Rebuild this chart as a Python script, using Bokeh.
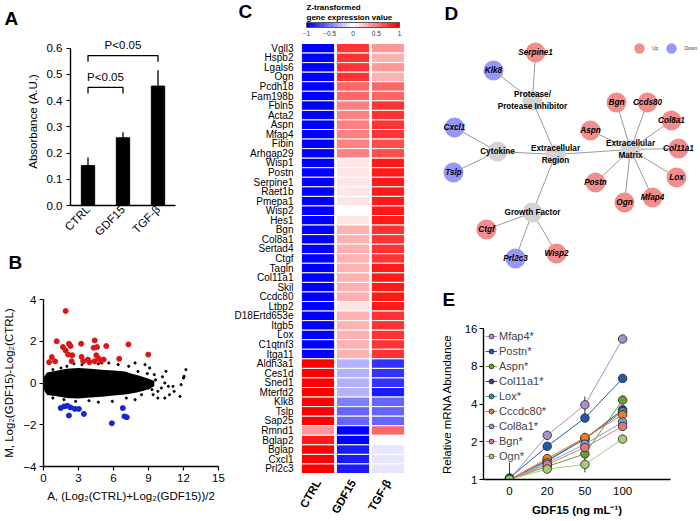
import math
from bokeh.plotting import figure
from bokeh.layouts import row, column
from bokeh.models import (Range1d, FixedTicker, Label, ColorBar,
                          LinearColorMapper, ColumnDataSource, Legend, LegendItem,
                          PrintfTickFormatter)
from bokeh.core.properties import value
from bokeh.embed import file_html
from bokeh.resources import INLINE

FONT = "Liberation Sans"

# ---------------- Panel A data ----------------
a_groups = ["CTRL", "GDF15", "TGF-β"]
a_values = [0.152, 0.258, 0.455]
a_errors = [0.031, 0.021, 0.060]
a_sig_pairs = [(0, 1), (0, 2)]
a_sig_levels = [0.450, 0.571]
a_sig_text = ["P<0.05", "P<0.05"]
a_yticks = [0.0, 0.1, 0.2, 0.3, 0.4, 0.5, 0.6]

# ---------------- Panel B data ----------------
b_core_x = [0.05, 0.3, 1.0, 2.0, 3.0, 4.0, 5.0, 6.0, 7.0, 7.5, 8.0, 8.5, 9.0, 9.5]
b_core_hi = [0.30, 0.50, 0.58, 0.68, 0.72, 0.68, 0.64, 0.60, 0.55, 0.45, 0.38, 0.30, 0.20, 0.10]
b_core_lo = [-0.35, -0.58, -0.62, -0.72, -0.74, -0.70, -0.66, -0.60, -0.55, -0.50, -0.45, -0.38, -0.30, -0.15]
b_sparse_x = [8.7, 9.1, 9.5, 9.8, 10.1, 10.4, 10.5, 10.7, 10.8, 11.1, 11.2, 11.8, 12.0, 12.2,
              12.05, 11.7, 10.4, 9.8, 9.4, 9.3, 9.0, 8.55, 8.4, 7.85, 7.1, 7.3, 7.85, 6.4,
              5.6, 4.7, 3.9, 3.3, 2.6, 2.0, 1.5, 0.8, 5.9, 4.7, 3.9, 2.75, 1.75, 0.8, 5.0,
              8.1, 8.9, 9.6, 10.2]
b_sparse_y = [0.88, 0.72, 0.40, -0.40, -0.24, 0.00, 0.56, -0.16, -0.56, -0.16, -0.40, -0.08,
              0.24, 0.64, 0.32, -0.64, -0.72, -0.72, -0.56, -0.32, -0.24, -0.24, -0.56, -0.80,
              -0.72, 0.80, 0.96, 0.88, 0.96, 0.92, 0.96, 0.88, 0.92, 0.80, 0.72, 0.64, -0.88,
              -0.92, -0.85, -0.88, -0.80, -0.72, 0.96, 0.55, 0.45, 0.15, 0.30]
b_up_x = [1.90, 1.13, 0.71, 0.48, 0.99, 1.67, 1.90, 2.18, 2.32, 2.12, 2.41, 2.46, 3.23, 3.26,
          3.40, 3.80, 3.94, 4.39, 4.30, 4.59, 4.53, 4.73, 4.90, 5.16, 5.38, 6.49, 7.28, 8.98, 4.39]
b_up_y = [3.45, 2.00, 1.24, 1.00, 1.04, 1.72, 1.56, 1.88, 1.77, 1.36, 1.04, 1.33, 1.88, 1.25,
          1.04, 1.12, 1.00, 2.04, 1.69, 1.72, 1.33, 1.17, 1.07, 1.12, 1.77, 1.16, 1.85, 1.36, 1.04]
b_down_x = [1.47, 1.76, 2.04, 2.18, 2.32, 2.69, 3.03, 3.46, 5.86, 6.80, 6.94, 7.14]
b_down_y = [-1.20, -1.12, -1.09, -1.56, -1.17, -1.24, -1.24, -1.48, -1.93, -1.20, -1.60, -1.64]
b_xticks = [0, 3, 6, 9, 12, 15]
b_yticks = [-4, -2, 0, 2, 4]

# ---------------- Panel C data ----------------
heat_conditions = ["CTRL", "GDF15", "TGF-β"]
heat_genes = ["Vgll3", "Hspb2", "Lgals6", "Ogn", "Pcdh18", "Fam198b", "Fbln5", "Acta2", "Aspn",
              "Mfap4", "Fibin", "Arhgap29", "Wisp1", "Postn", "Serpine1", "Raet1b", "Pmepa1",
              "Wisp2", "Hes1", "Bgn", "Col8a1", "Sertad4", "Ctgf", "Tagln", "Col11a1", "Skil",
              "Ccdc80", "Ltbp2", "D18Ertd653e", "Itgb5", "Lox", "C1qtnf3", "Itga11", "Aldh3a1",
              "Ces1d", "Sned1", "Mterfd2", "Klk8", "Tslp", "Sap25", "Rmnd1", "Bglap2", "Bglap",
              "Cxcl1", "Prl2c3"]
z_ctrl = [-1, -1, -1, -1, -1, -1, -1, -1, -1, -1, -1, -1, -1, -1, -1, -1, -1, -1, -1, -1, -1, -1,
          -1, -1, -1, -1, -1, -1, -1, -1, -1, -1, -1, 1, 1, 1, 1, 1, 1, 1, 0.42, 0.85, 1, 1, 1]
z_gdf15 = [0.72, 0.72, 0.72, 0.72, 0.60, 0.60, 0.45, 0.45, 0.45, 0.45, 0.45, 0.45, 0.13, 0.13,
           0.13, 0.13, 0.13, 0.0, 0.13, 0.30, 0.30, 0.30, 0.30, 0.30, 0.30, 0.30, 0.30, 0.13,
           0.30, 0.30, 0.30, 0.30, 0.30, -0.28, -0.28, -0.28, -0.28, -0.45, -0.55, -0.55, -0.95,
           -1.0, -0.88, -0.88, -0.88]
z_tgfb = [0.42, 0.28, 0.42, 0.28, 0.60, 0.60, 0.72, 0.72, 0.72, 0.72, 0.62, 0.62, 0.88, 0.88,
          0.88, 0.88, 0.88, 0.88, 0.88, 0.75, 0.75, 0.75, 0.75, 0.88, 0.88, 0.88, 0.88, 0.88,
          0.75, 0.75, 0.75, 0.75, 0.72, -0.72, -0.72, -0.72, -0.85, -0.60, -0.60, -0.60, 0.60,
          0.0, -0.12, -0.12, -0.12]
heat_ticks = [-1, -0.5, 0, 0.5, 1]

# ---------------- Panel D data ----------------
d_nodes = ["Protease/\nProtease Inhibitor", "Cytokine", "Extracellular\nRegion",
           "Extracellular\nMatrix", "Growth Factor",
           "Serpine1", "Klk8", "Cxcl1", "Tslp", "Ctgf", "Prl2c3", "Wisp2",
           "Bgn", "Ccds80", "Col8a1", "Col11a1", "Aspn", "Lox", "Mfap4", "Ogn", "Postn"]
d_kind = ["hub", "hub", "hub", "hub", "hub",
          "Up", "Down", "Down", "Down", "Up", "Down", "Up",
          "Up", "Up", "Up", "Up", "Up", "Up", "Up", "Up", "Up"]
d_x = [532, 497, 555, 630, 532, 535, 493, 454, 453, 486, 515, 556,
       616, 647, 671, 678, 590, 676, 652, 624, 595]
d_y = [100, 151, 154, 149, 212, 52, 70, 127, 172, 229, 258, 253,
       102, 102, 120, 148, 130, 177, 197, 202, 182]
d_edges = [(2, 0), (2, 1), (2, 4), (2, 3),
           (0, 5), (0, 6), (1, 7), (1, 8), (4, 9), (4, 10), (4, 11),
           (3, 12), (3, 13), (3, 14), (3, 15), (3, 16), (3, 17), (3, 18), (3, 19), (3, 20)]

# ---------------- Panel E data ----------------
e_doses = ["0", "20", "50", "100"]
e_genes = ["Mfap4*", "Postn*", "Aspn*", "Col11a1*", "Lox*", "Cccdc80*", "Col8a1*", "Bgn*", "Ogn*"]
e_colors = ["#A592C8", "#2059A8", "#6E9E34", "#5B3383", "#2A98B5", "#EE7A22", "#7F9FD8",
            "#D97A7C", "#A5CC73"]
e_values = [
    [1.00, 2.25, 3.94, 13.2],
    [1.03, 1.84, 3.09, 6.40],
    [1.00, 1.27, 1.60, 4.30],
    [1.00, 1.42, 2.12, 3.60],
    [1.00, 1.40, 2.10, 3.48],
    [1.00, 1.47, 2.16, 3.28],
    [1.00, 1.36, 1.91, 2.87],
    [1.00, 1.32, 1.80, 2.65],
    [1.00, 1.21, 1.32, 2.10],
]
e_errors = [
    [0.02, 0.20, 0.65, 0.90],
    [0.33, 0.12, 0.20, 0.30],
    [0.02, 0.08, 0.10, 0.20],
    [0.02, 0.08, 0.12, 0.15],
    [0.02, 0.08, 0.12, 0.15],
    [0.02, 0.10, 0.20, 0.15],
    [0.02, 0.08, 0.12, 0.12],
    [0.02, 0.08, 0.15, 0.12],
    [0.02, 0.06, 0.18, 0.10],
]
e_yticks = [1, 2, 4, 8, 16]


# ---------------- helpers ----------------
def base_fig(**kw):
    p = figure(output_backend="svg", toolbar_location=None, **kw)
    p.frame_align = False
    p.outline_line_color = None
    p.xgrid.visible = False
    p.ygrid.visible = False
    p.background_fill_color = "white"
    p.border_fill_color = "white"
    return p


def style_axis(ax, size="11px"):
    ax.major_label_text_font = FONT
    ax.major_label_text_font_size = size
    ax.major_label_text_color = "black"
    ax.axis_label_text_font = FONT
    ax.axis_label_text_font_size = size
    ax.axis_label_text_font_style = "normal"
    ax.axis_label_text_color = "black"
    ax.minor_tick_line_color = None
    ax.axis_line_color = "black"
    ax.axis_line_width = 1.4
    ax.major_tick_line_color = "black"
    ax.major_tick_line_width = 1.2
    ax.major_tick_in = 0
    ax.major_tick_out = 4


def title_letter(p, text, offset, standoff):
    p.title.text = text
    p.title.align = "left"
    p.title.offset = offset
    p.title.standoff = standoff
    p.title.vertical_align = "top"
    p.title.text_font = FONT
    p.title.text_font_size = "19px"
    p.title.text_font_style = "bold"
    p.title.text_color = "black"


def label_letter(p, text, x, y):
    p.add_layout(Label(x=x, y=y, text=text, text_font=FONT, text_font_size="19px",
                       text_font_style="bold", text_baseline="top", text_align="left",
                       text_color="black"))


# ---------------- Panel A ----------------
pa = base_fig(width=226, height=245, x_range=Range1d(-0.5, 2.5), y_range=Range1d(0, 0.64),
              min_border_left=70, min_border_right=51, min_border_top=36, min_border_bottom=32)
a_idx = list(range(len(a_groups)))
pa.vbar(x=a_idx, top=a_values, width=0.38, fill_color="black", line_color="black")
pa.segment(x0=a_idx, y0=a_values, x1=a_idx,
           y1=[v + e for v, e in zip(a_values, a_errors)], line_color="black", line_width=1.3)
for (i, j), lvl, txt in zip(a_sig_pairs, a_sig_levels, a_sig_text):
    pa.line(x=[i, i, j, j], y=[lvl - 0.023, lvl, lvl, lvl - 0.023], line_color="black",
            line_width=1.3)
    pa.add_layout(Label(x=(i + j) / 2, y=lvl + 0.04, text=txt, text_align="center",
                        text_baseline="middle", text_font=FONT, text_font_size="11.5px",
                        text_color="black"))
style_axis(pa.xaxis[0], "11.5px")
style_axis(pa.yaxis[0], "11.5px")
pa.yaxis[0].ticker = FixedTicker(ticks=a_yticks)
pa.yaxis[0].formatter = PrintfTickFormatter(format="%.1f")
pa.yaxis[0].bounds = (0, 0.6)
pa.yaxis[0].axis_label = "Absorbance (A.U.)"
pa.yaxis[0].major_label_standoff = 4
pa.xaxis[0].ticker = FixedTicker(ticks=a_idx)
pa.xaxis[0].major_label_overrides = {i: g for i, g in zip(a_idx, a_groups)}
pa.xaxis[0].major_label_orientation = math.pi / 4
pa.xaxis[0].major_tick_line_color = None
pa.xaxis[0].major_tick_out = 0
pa.xaxis[0].major_label_standoff = 2
title_letter(pa, "A", -66, 14)

# ---------------- Panel B ----------------
pb = base_fig(width=226, height=276, x_range=Range1d(0, 15), y_range=Range1d(-4, 4),
              min_border_left=41, min_border_right=8, min_border_top=54, min_border_bottom=55)
pb.varea(x=b_core_x, y1=b_core_lo, y2=b_core_hi, fill_color="black")
pb.scatter(b_sparse_x, b_sparse_y, size=2.2, color="black")
pb.scatter(b_up_x, b_up_y, size=5, color="#DD1515")
pb.scatter(b_down_x, b_down_y, size=5, color="#1528CC")
style_axis(pb.xaxis[0], "11.5px")
style_axis(pb.yaxis[0], "11.5px")
pb.xaxis[0].ticker = FixedTicker(ticks=b_xticks)
pb.yaxis[0].ticker = FixedTicker(ticks=b_yticks)
pb.xaxis[0].axis_label = "A, (Log₂(CTRL)+Log₂(GDF15))/2"
pb.yaxis[0].axis_label = "M, Log₂(GDF15)-Log₂(CTRL)"
pb.yaxis[0].major_label_standoff = 3
pb.xaxis[0].major_label_standoff = 3
title_letter(pb, "B\n", -35, 8)

# ---------------- Panel C ----------------
n_genes = len(heat_genes)
hx, hy, hz = [], [], []
for i, g in enumerate(heat_genes):
    for k, col in enumerate((z_ctrl, z_gdf15, z_tgfb)):
        hx.append(k + 0.5)
        hy.append(n_genes - 1 - i)
        hz.append(col[i])
heat_src = ColumnDataSource(dict(x=hx, y=hy, z=hz))


def _mix(c1, c2, t):
    return "#%02x%02x%02x" % tuple(int(round(a + (b - a) * t)) for a, b in zip(c1, c2))


palette = [_mix((0, 0, 255), (255, 255, 255), k / 10) for k in range(10)] + \
          [_mix((255, 255, 255), (255, 0, 0), k / 10) for k in range(11)]
mapper = LinearColorMapper(palette=palette, low=-1, high=1)

pc = base_fig(width=184, height=521, x_range=Range1d(-2.114, 3.143),
              y_range=Range1d(-5.523, 49.0), x_axis_location=None, y_axis_location=None,
              min_border=0)
pc.rect(x="x", y="y", width=0.95, height=1, source=heat_src,
        fill_color={"field": "z", "transform": mapper}, line_color="white", line_width=1)
pc.text(x=[-0.2] * n_genes, y=[n_genes - 1 - i for i in range(n_genes)], text=heat_genes,
        text_align="right", text_baseline="middle", text_font=value(FONT),
        text_font_size="10px", text_color="black")
pc.text(x=[k + 0.5 for k in range(len(heat_conditions))], y=[-1.23] * len(heat_conditions),
        text=heat_conditions, angle=math.pi / 3, text_align="right", text_baseline="middle",
        text_font=value(FONT), text_font_size="11.5px", text_font_style="bold",
        text_color="black")
cb = ColorBar(color_mapper=mapper, location=(80, 483), orientation="horizontal", width=93,
              height=5, title="Z-transformed\ngene expression value",
              title_text_font=FONT, title_text_font_size="8px", title_text_font_style="bold",
              title_text_color="black", title_standoff=0,
              major_label_text_font=FONT, major_label_text_font_size="6.5px",
              major_label_text_color="#333333", label_standoff=3,
              ticker=FixedTicker(ticks=heat_ticks), major_tick_line_color=None,
              bar_line_color="#555555", padding=0, background_fill_alpha=0,
              border_line_color=None)
pc.add_layout(cb)
label_letter(pc, "C", -1.771, 48.95)

# ---------------- Panel D ----------------
pd_ = base_fig(width=290, height=272, x_range=Range1d(410, 700), y_range=Range1d(272, 0),
               x_axis_location=None, y_axis_location=None, min_border=0)
pd_.multi_line(xs=[[d_x[a], d_x[b]] for a, b in d_edges],
               ys=[[d_y[a], d_y[b]] for a, b in d_edges], line_color="#9a9a9a", line_width=1)
node_colors = {"hub": "#D3D3D3", "Up": "#F28D8D", "Down": "#9797F5"}
node_r = {}
for kind in ("hub", "Up", "Down"):
    idx = [k for k, t in enumerate(d_kind) if t == kind]
    node_r[kind] = pd_.scatter([d_x[k] for k in idx], [d_y[k] for k in idx], size=20,
                               fill_color=node_colors[kind], line_color=None)
gene_idx = [k for k, t in enumerate(d_kind) if t != "hub"]
hub_idx = [k for k, t in enumerate(d_kind) if t == "hub"]
pd_.text([d_x[k] for k in gene_idx], [d_y[k] for k in gene_idx],
         text=[d_nodes[k] for k in gene_idx], text_align="center", text_baseline="middle",
         text_font=value(FONT), text_font_size="8.2px", text_font_style="bold italic",
         text_color="black")
pd_.text([d_x[k] for k in hub_idx], [d_y[k] for k in hub_idx],
         text=[d_nodes[k] for k in hub_idx], text_align="center", text_baseline="middle",
         text_font=value(FONT), text_font_size="8.2px", text_font_style="bold",
         text_color="black", text_line_height=1.35)
d_leg = Legend(items=[LegendItem(label="Up", renderers=[node_r["Up"]]),
                      LegendItem(label="Down", renderers=[node_r["Down"]])],
               orientation="horizontal", location=(216, 211), glyph_width=26, glyph_height=26,
               label_text_font=FONT, label_text_font_size="5px", label_standoff=-9,
               label_width=0, label_height=26, spacing=0, padding=0, margin=0,
               border_line_color=None, background_fill_alpha=0)
pd_.add_layout(d_leg)
label_letter(pd_, "D", 444, 2)

# ---------------- Panel E ----------------
pe = base_fig(width=290, height=249, x_range=Range1d(-0.69, 4.27), y_range=Range1d(1, 16),
              y_axis_type="log",
              min_border_left=73, min_border_right=30, min_border_top=55, min_border_bottom=42)
e_idx = list(range(len(e_doses)))
e_items = []
for name, col, vals, errs in zip(e_genes, e_colors, e_values, e_errors):
    lr = pe.line(e_idx, vals, line_color=col, line_width=1)
    pe.segment(x0=e_idx, x1=e_idx, y0=[max(1.0, v - e) for v, e in zip(vals, errs)],
               y1=[v + e for v, e in zip(vals, errs)], line_color="#333333", line_width=1)
    sr = pe.scatter(e_idx, vals, size=8.5, fill_color=col, line_color="#222222",
                    line_width=0.8)
    e_items.append(LegendItem(label=name, renderers=[lr, sr]))
style_axis(pe.xaxis[0], "11.5px")
style_axis(pe.yaxis[0], "11.5px")
pe.xaxis[0].ticker = FixedTicker(ticks=e_idx)
pe.xaxis[0].major_label_overrides = {i: d for i, d in zip(e_idx, e_doses)}
pe.xaxis[0].major_tick_line_color = None
pe.xaxis[0].major_tick_out = 0
pe.xaxis[0].major_label_standoff = 7
pe.xaxis[0].axis_label = "GDF15 (ng mL⁻¹)"
pe.xaxis[0].axis_label_text_font_style = "bold"
pe.xaxis[0].axis_label_standoff = 6
pe.yaxis[0].ticker = FixedTicker(ticks=e_yticks)
pe.yaxis[0].formatter = PrintfTickFormatter(format="%d")
pe.yaxis[0].major_label_standoff = 2
pe.yaxis[0].axis_label = "Relative mRNA Abundance"
pe.yaxis[0].axis_label_standoff = 9
e_leg = Legend(items=e_items, location="top_left", glyph_width=12, glyph_height=12,
               label_height=12, spacing=3, padding=2, margin=2, label_standoff=2,
               label_text_font=FONT, label_text_font_size="11px",
               border_line_color=None, background_fill_alpha=0)
pe.add_layout(e_leg)
title_letter(pe, "E", -41, 33)

layout = row(column(pa, pb), pc, column(pd_, pe))
with open("out.html", "w") as f:
    f.write(file_html(layout, INLINE, title="Figure"))
